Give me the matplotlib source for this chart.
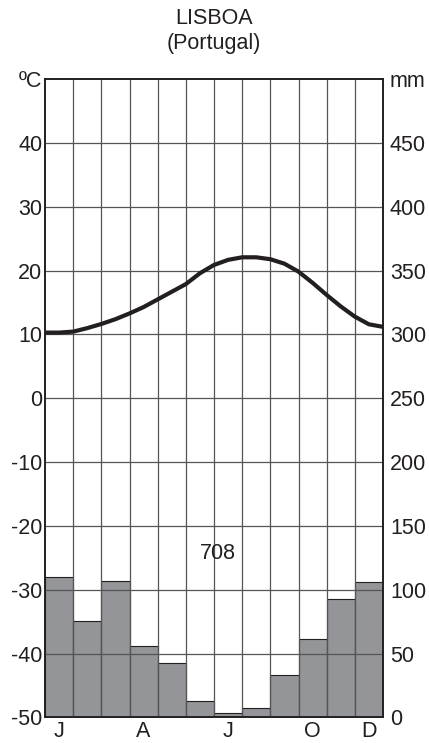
import numpy as np
from matplotlib import pyplot as plt

# monthly precipitation (mm)
months = ['J', 'F', 'M', 'A', 'M', 'J', 'J', 'A', 'S', 'O', 'N', 'D']
precip = [110, 75.5, 107, 56, 42.5, 13, 3.5, 7, 33, 61.5, 93, 106]
total_precip = 708

# temperature curve read at month boundaries and mid-months (x in months)
temp_x = [0, 0.5, 1, 1.5, 2, 2.5, 3, 3.5, 4, 4.5, 5, 5.5, 6,
          6.5, 7, 7.5, 8, 8.5, 9, 9.5, 10, 10.5, 11, 11.5, 12]
temp_c = [10.3, 10.3, 10.45, 11.0, 11.65, 12.4, 13.3, 14.3, 15.5, 16.7, 17.9, 19.6, 20.9,
          21.7, 22.1, 22.1, 21.8, 21.1, 19.85, 18.1, 16.2, 14.4, 12.8, 11.6, 11.2]

month_labels = {0: 'J', 3: 'A', 6: 'J', 9: 'O', 11: 'D'}

plt.rcParams['font.family'] = ['Liberation Sans', 'DejaVu Sans']
fs = 15.5

fig = plt.figure(figsize=(4.29, 7.43), dpi=100)
ax = fig.add_axes([45/429, (743-717.3)/743, (383-45)/429, (717.3-79.3)/743])
ax2 = ax.twinx()

# bars on the precipitation axis
ax2.bar(np.arange(12)+0.5, precip, width=1.0, color='#939598', edgecolor='#231f20', linewidth=0.8)
ax2.set_ylim(0, 500)
ax2.set_yticks(np.arange(0, 501, 50))
ax2.set_yticklabels([str(v) for v in range(0, 500, 50)] + ['mm'])

# temperature axis above the bars
ax.set_zorder(ax2.get_zorder()+1)
ax.patch.set_visible(False)
ax.set_xlim(0, 12)
ax.set_ylim(-50, 50)
ax.set_yticks(np.arange(-50, 51, 10))
ax.set_yticklabels([str(v) for v in range(-50, 50, 10)] + ['ºC'])

for v in range(-40, 50, 10):
    ax.axhline(v, color='#555555', lw=0.9, zorder=1)
for m in range(1, 12):
    ax.axvline(m, color='#555555', lw=0.9, zorder=1)

ax.plot(temp_x, temp_c, color='#231f20', lw=3, solid_capstyle='butt', solid_joinstyle='round', zorder=3)

ax.text(6.15, -24.4, str(total_precip), fontsize=fs, ha='center', va='center', color='#231f20')

ax.set_xticks([k+0.5 for k in month_labels])
ax.set_xticklabels(list(month_labels.values()))

for a in (ax, ax2):
    for s in a.spines.values():
        s.set_linewidth(1.2)
        s.set_color('#231f20')
ax.tick_params(axis='y', length=0, pad=2, labelsize=fs, colors='#231f20')
ax.tick_params(axis='x', length=0, pad=2.5, labelsize=fs, colors='#231f20')
ax2.tick_params(axis='y', length=0, pad=5, labelsize=fs, colors='#231f20')

fig.text(214/429, 1-18/743, 'LISBOA', ha='center', va='center', fontsize=fs, color='#231f20')
fig.text(214/429, 1-43/743, '(Portugal)', ha='center', va='center', fontsize=fs, color='#231f20')

plt.savefig('out.png', dpi=100)
plt.close()
